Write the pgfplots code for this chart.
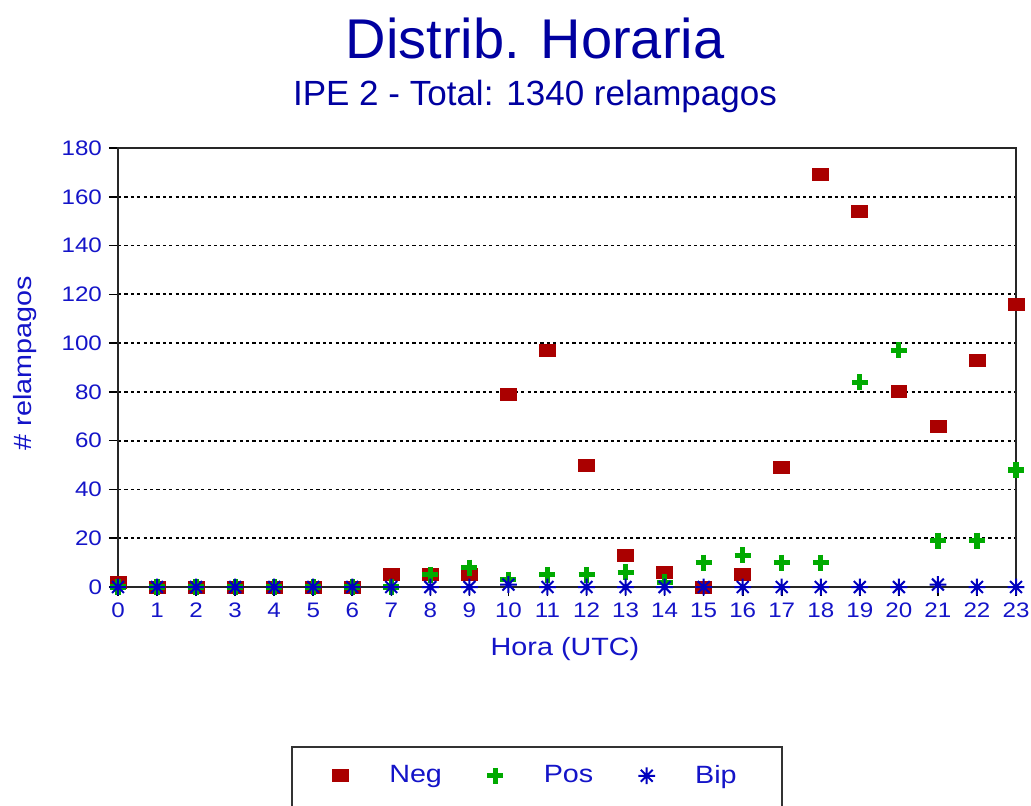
\documentclass[border=0pt]{standalone}
\usepackage{fontspec}
\setmainfont{Liberation Sans}
\newfontfamily\widefont[FakeStretch=1.15]{Liberation Sans}
\usepackage{pgfplots}
\usepackage{pgfplotstable}
\pgfplotsset{compat=1.18}
\definecolor{negred}{RGB}{170,0,0}
\definecolor{posgreen}{RGB}{0,170,0}
\definecolor{bipblue}{RGB}{0,0,190}
\definecolor{titleblue}{RGB}{0,0,160}
\definecolor{labblue}{RGB}{20,20,200}

\pgfdeclareplotmark{bipstar}{%
  \pgfpathmoveto{\pgfqpoint{-\pgfplotmarksize}{0pt}}%
  \pgfpathlineto{\pgfqpoint{\pgfplotmarksize}{0pt}}%
  \pgfpathmoveto{\pgfqpoint{0pt}{-\pgfplotmarksize}}%
  \pgfpathlineto{\pgfqpoint{0pt}{\pgfplotmarksize}}%
  \pgfpathmoveto{\pgfqpoint{-0.707\pgfplotmarksize}{-0.707\pgfplotmarksize}}%
  \pgfpathlineto{\pgfqpoint{0.707\pgfplotmarksize}{0.707\pgfplotmarksize}}%
  \pgfpathmoveto{\pgfqpoint{-0.707\pgfplotmarksize}{0.707\pgfplotmarksize}}%
  \pgfpathlineto{\pgfqpoint{0.707\pgfplotmarksize}{-0.707\pgfplotmarksize}}%
  \pgfusepathqstroke}

\pgfplotstableread{
h neg pos bip
0 2 0 0
1 0 0 0
2 0 0 0
3 0 0 0
4 0 0 0
5 0 0 0
6 0 0 0
7 5 0 0
8 5 5 0
9 5 8 0
10 79 3 1
11 97 5 0
12 50 5 0
13 13 6 0
14 6 2 0
15 0 10 0
16 5 13 0
17 49 10 0
18 169 10 0
19 154 84 0
20 80 97 0
21 66 19 1
22 93 19 0
23 116 48 0
}\data

\pgfplotsset{myleg/.style={legend image code/.code={\path (0pt,0pt) (34pt,0pt); \draw[mark repeat=2,mark phase=2,##1] plot coordinates {(0pt,0pt) (10pt,0pt) (20pt,0pt)};}}}

\begin{document}
\begin{tikzpicture}
\useasboundingbox (-59pt,-109pt) rectangle (456.5pt,293.5pt);
\begin{axis}[
  at={(0pt,0pt)}, anchor=south west,
  scale only axis, width=449pt, height=219.5pt,
  xmin=0, xmax=23, ymin=0, ymax=180,
  xtick={0,...,23}, ytick={0,20,...,180},
  xtick pos=bottom, ytick pos=left,
  tick align=outside, major tick length=4.5pt,
  tick style={black, line width=0.8pt},
  axis line style={black!85, line width=1pt},
  ymajorgrids, major grid style={black, line width=0.9pt, dash pattern=on 1.6pt off 1.6pt},
  /pgf/number format/assume math mode=true,
  tick label style={font=\widefont\fontsize{10.5}{12}\selectfont, text=labblue},
  clip=false,
  legend columns=3,
  legend style={draw=none, fill=none, at={(axis description cs:0.225,-0.43)}, anchor=west,
    inner sep=0pt, nodes={inner sep=0pt, text=labblue}, font=\widefont\fontsize{12.5}{14}\selectfont,
    /tikz/every odd column/.append style={column sep=0pt},
    /tikz/every even column/.append style={column sep=16.5pt}},
]
\addplot[myleg, only marks, mark=square*, color=negred, mark size=3pt, mark options={xscale=1.33}] table[x=h, y=neg] {\data};
\addlegendentry{Neg}
\addplot[myleg, only marks, mark=+, color=posgreen, mark size=4pt, mark options={line width=2.6pt}] table[x=h, y=pos] {\data};
\addlegendentry{Pos}
\addplot[myleg, only marks, mark=bipstar, color=bipblue, mark size=4.2pt, mark options={line width=1pt}] table[x=h, y=bip] {\data};
\addlegendentry{Bip}
\end{axis}
\node[font=\fontsize{28}{32}\selectfont, text=titleblue] at (208.5pt,274.5pt) {Distrib. Horaria};
\node[font=\fontsize{17.5}{20}\selectfont, text=titleblue] at (208.5pt,245.5pt) {IPE 2 - Total: 1340 relampagos};
\node[font=\widefont\fontsize{12.5}{14}\selectfont, text=labblue] at (223.5pt,-31pt) {Hora (UTC)};
\node[font=\widefont\fontsize{12.5}{14}\selectfont, text=labblue, rotate=90] at (-46.5pt,112pt) {\# relampagos};
\draw[black!80, line width=1pt] (87pt,-115pt) -- (87pt,-80pt) -- (332pt,-80pt) -- (332pt,-115pt);
\end{tikzpicture}
\end{document}
